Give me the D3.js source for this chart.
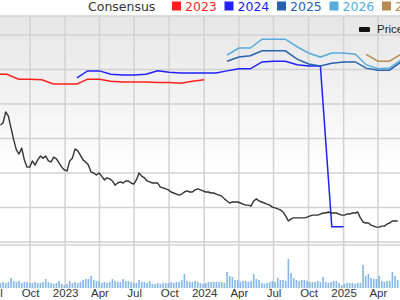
<!DOCTYPE html>
<html>
<head>
<meta charset="utf-8">
<script src="https://cdn.jsdelivr.net/npm/d3@7"></script>
<style>
body { margin: 0; background: #fff; }
svg { display: block; }
</style>
</head>
<body>
<div id="chart"></div>
<script>
// axis ticks (quarters)
var tickDates = ['2022-07-01', '2022-10-01', '2023-01-01', '2023-04-01', '2023-07-01', '2023-10-01',
	'2024-01-01', '2024-04-01', '2024-07-01', '2024-10-01', '2025-01-01', '2025-04-01'];
var tickLabels = ['Jul', 'Oct', '2023', 'Apr', 'Jul', 'Oct', '2024', 'Apr', 'Jul', 'Oct', '2025', 'Apr'];
var priceTicks = [10, 20, 30, 40, 50, 60, 70];

// consensus EPS, monthly, per fiscal year
var consensusYears = ['2023', '2024', '2025', '2026', '2027'];
var consensusStart = ['2022-07-01', '2023-02-01', '2024-03-01', '2024-03-01', '2025-03-01'];
var eps2023 = [2.43, 2.43, 2.36, 2.36, 2.35, 2.29, 2.29, 2.29, 2.36, 2.36, 2.33, 2.32, 2.32, 2.32, 2.31, 2.31, 2.30, 2.33, 2.35];
var eps2024 = [2.38, 2.48, 2.48, 2.43, 2.42, 2.42, 2.43, 2.48, 2.46, 2.45, 2.45, 2.45, 2.45, 2.48, 2.51, 2.51, 2.61, 2.62, 2.62, 2.57, 2.55, 2.55, 0.22, 0.22];
var eps2025 = [2.62, 2.68, 2.70, 2.77, 2.77, 2.77, 2.65, 2.58, 2.55, 2.59, 2.61, 2.61, 2.52, 2.49, 2.49, 2.61];
var eps2026 = [2.71, 2.81, 2.81, 2.94, 2.94, 2.94, 2.83, 2.74, 2.68, 2.74, 2.74, 2.72, 2.57, 2.51, 2.52, 2.64];
var eps2027 = [2.72, 2.62, 2.62, 2.72];

// weekly price and volume
var weekStart = '2022-07-15';
var price = [43.9, 44.5, 47.7, 46.5, 43.0, 39.6, 36.7, 35.5, 37.2, 33.8,
	31.7, 31.7, 33.5, 32.3, 33.8, 34.9, 34.3, 34.9, 33.5, 33.2,
	34.6, 34.1, 32.9, 31.7, 30.9, 30.6, 33.5, 34.3, 37.0, 36.4,
	35.2, 33.8, 33.2, 32.3, 30.3, 30.0, 29.4, 30.0, 29.1, 28.0,
	28.6, 28.3, 27.7, 26.5, 27.1, 27.4, 27.1, 27.7, 27.7, 27.1,
	26.8, 28.0, 30.0, 29.1, 28.6, 27.7, 27.4, 27.1, 27.1, 27.1,
	25.9, 25.7, 25.4, 25.1, 24.5, 24.2, 23.9, 23.6, 23.9, 24.5,
	24.8, 24.5, 24.5, 25.1, 25.4, 25.1, 24.8, 24.5, 24.5, 24.2,
	24.2, 23.9, 23.6, 23.3, 22.5, 21.9, 21.3, 21.6, 21.6, 21.6,
	21.3, 21.0, 20.7, 20.7, 20.4, 21.9, 22.5, 21.9, 21.6, 21.3,
	21.0, 20.7, 20.1, 19.9, 19.6, 19.3, 18.7, 17.5, 16.1, 16.7,
	17.0, 17.0, 17.0, 17.0, 17.0, 17.2, 17.5, 17.8, 17.8, 17.8,
	18.1, 18.4, 18.4, 18.7, 18.4, 18.4, 18.4, 18.1, 17.8, 17.8,
	18.1, 18.1, 18.4, 18.4, 18.7, 17.0, 15.8, 15.5, 15.5, 14.9,
	14.6, 14.3, 14.3, 14.6, 14.6, 15.2, 15.5, 16.1, 16.1, 16.1];
var volume = [5, 6, 5, 6, 10, 7, 6, 7, 5, 6,
	6, 5, 5, 6, 5, 5, 6, 9, 6, 5,
	4, 5, 7, 4, 3, 4, 7, 5, 6, 5,
	6, 8, 9, 9, 12, 8, 7, 7, 5, 6,
	5, 6, 9, 7, 6, 6, 9, 7, 7, 6,
	5, 5, 8, 6, 6, 5, 7, 4, 4, 5,
	4, 5, 5, 5, 6, 5, 6, 6, 8, 14,
	7, 6, 6, 7, 6, 5, 4, 5, 6, 6,
	6, 6, 6, 6, 5, 16, 12, 11, 8, 8,
	6, 7, 7, 6, 7, 14, 9, 8, 5, 4,
	5, 6, 7, 6, 10, 8, 8, 7, 29, 15,
	10, 8, 7, 8, 8, 7, 6, 6, 6, 7,
	6, 11, 6, 5, 6, 7, 7, 5, 3, 4,
	5, 5, 5, 4, 5, 5, 23, 12, 14, 10,
	9, 9, 12, 7, 6, 7, 7, 16, 12, 8];

var colors = ['#ff1f1f', '#2020ff', '#2662b0', '#56acdb', '#b98b50'];

var parse = d3.timeParse('%Y-%m-%d');
var W = 400, H = 300;
var plotTop = 16, priceBottom = 245, volBottom = 288;

var svg = d3.select('#chart').append('svg').attr('width', W).attr('height', H);

var x = d3.scaleTime()
	.domain([parse('2022-07-14'), parse('2025-05-29')])
	.range([0, W]);

var yPrice = d3.scaleLinear().domain([10, 70]).range([242, 35]);
var yEps = d3.scaleLinear().domain([0, 3]).range([242, 35]);
var yVol = d3.scaleLinear().domain([0, 40]).range([volBottom, volBottom - 40]);

// background gradient
var defs = svg.append('defs');
var grad = defs.append('linearGradient')
	.attr('id', 'bg')
	.attr('x1', 0).attr('y1', 0).attr('x2', 0).attr('y2', 1);
grad.append('stop').attr('offset', '0%').attr('stop-color', '#e6e6e6');
grad.append('stop').attr('offset', '70%').attr('stop-color', '#ffffff');

defs.append('clipPath').attr('id', 'clip')
	.append('rect')
	.attr('x', 0).attr('y', plotTop)
	.attr('width', W).attr('height', priceBottom - plotTop);

svg.append('rect')
	.attr('x', 0).attr('y', plotTop)
	.attr('width', W).attr('height', 242 - plotTop)
	.attr('fill', 'url(#bg)');

// grid
var grid = svg.append('g').attr('stroke', '#d2d2d2').attr('stroke-width', 1.5);

grid.selectAll('.hgrid')
	.data(priceTicks)
	.enter().append('line')
	.attr('x1', 0).attr('x2', W)
	.attr('y1', function(d) { return yPrice(d); })
	.attr('y2', function(d) { return yPrice(d); });

grid.append('line').attr('x1', 0).attr('x2', W).attr('y1', plotTop).attr('y2', plotTop);
grid.append('line').attr('x1', 0).attr('x2', W).attr('y1', priceBottom).attr('y2', priceBottom);

grid.selectAll('.vgrid')
	.data(tickDates)
	.enter().append('line')
	.attr('x1', function(d) { return x(parse(d)); })
	.attr('x2', function(d) { return x(parse(d)); })
	.attr('y1', plotTop)
	.attr('y2', volBottom);

// volume
var weeks = volume.map(function(v, i) { return d3.timeDay.offset(parse(weekStart), i * 7); });

svg.append('g').selectAll('rect')
	.data(volume)
	.enter().append('rect')
	.attr('x', function(d, i) { return x(weeks[i]) - 0.8; })
	.attr('y', function(d) { return yVol(d); })
	.attr('width', 1.6)
	.attr('height', function(d) { return volBottom - yVol(d); })
	.attr('fill', '#83b7e5');

// consensus lines
var linesG = svg.append('g').attr('clip-path', 'url(#clip)');
var epsSeries = [eps2023, eps2024, eps2025, eps2026, eps2027];

var epsLine = d3.line()
	.x(function(d) { return x(d.date); })
	.y(function(d) { return yEps(d.value); });

epsSeries.forEach(function(values, k) {
	var start = parse(consensusStart[k]);
	var pts = values.map(function(v, i) {
		return { date: d3.timeMonth.offset(start, i), value: v };
	});
	linesG.append('path')
		.attr('d', epsLine(pts))
		.attr('fill', 'none')
		.attr('stroke', colors[k])
		.attr('stroke-width', 1.5);
});

// price line
var priceLine = d3.line()
	.x(function(d, i) { return x(weeks[i]); })
	.y(function(d) { return yPrice(d); });

linesG.append('path')
	.attr('d', priceLine(price))
	.attr('fill', 'none')
	.attr('stroke', '#333')
	.attr('stroke-width', 1.4)
	.attr('stroke-linejoin', 'round');

// x axis
var xAxis = d3.axisBottom(x)
	.tickValues(tickDates.map(parse))
	.tickFormat(function(d, i) { return tickLabels[i]; })
	.tickSize(0)
	.tickPadding(0);

var xAxisG = svg.append('g')
	.attr('transform', 'translate(0,' + (H - 11) + ')')
	.call(xAxis);
xAxisG.select('.domain').remove();
xAxisG.selectAll('text')
	.attr('dy', '0.71em')
	.attr('fill', '#333')
	.style('font-family', 'Liberation Sans, Arial, sans-serif')
	.style('font-size', '11.5px');

// consensus legend
var legend = svg.append('g')
	.style('font-family', 'DejaVu Sans, sans-serif')
	.style('font-size', '12.5px');

legend.append('text')
	.attr('x', 88).attr('y', 10.5)
	.attr('fill', '#333')
	.text('Consensus');

consensusYears.forEach(function(year, k) {
	var lx = 172 + k * 52.5;
	legend.append('rect')
		.attr('x', lx).attr('y', 1.5)
		.attr('width', 9).attr('height', 9)
		.attr('fill', colors[k]);
	legend.append('text')
		.attr('x', lx + 13).attr('y', 10.5)
		.attr('fill', colors[k])
		.text(year);
});

// price legend
svg.append('rect')
	.attr('x', 359).attr('y', 27)
	.attr('width', 11).attr('height', 5)
	.attr('rx', 1)
	.attr('fill', '#111');
svg.append('text')
	.attr('x', 377).attr('y', 33)
	.attr('fill', '#222')
	.style('font-family', 'Liberation Sans, Arial, sans-serif')
	.style('font-size', '11.5px')
	.text('Price');
</script>
</body>
</html>
